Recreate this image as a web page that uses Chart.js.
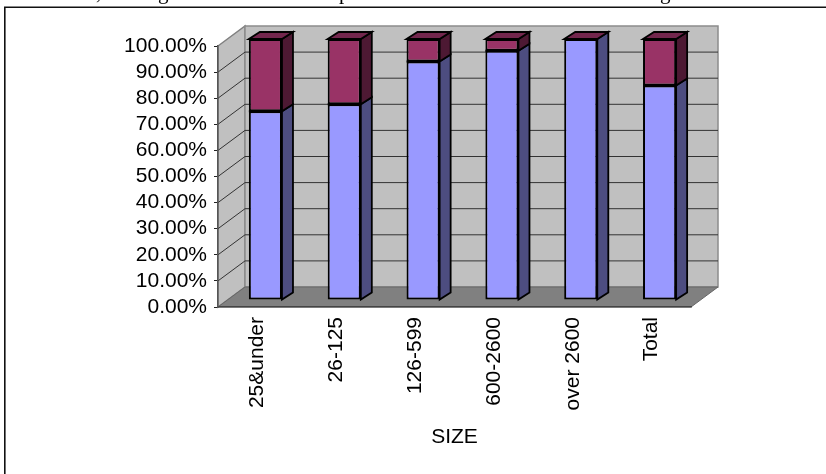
<!DOCTYPE html>
<html>
<head>
<meta charset="utf-8">
<title>SIZE</title>
<script src="https://cdn.jsdelivr.net/npm/chart.js@4"></script>
<style>
  html, body { margin: 0; padding: 0; background: #fff; }
  canvas { display: block; }
</style>
</head>
<body>
<canvas id="grafica" width="826" height="474"></canvas>
<script>
const categories = ['25&under', '26-125', '126-599', '600-2600', 'over 2600', 'Total'];
const lowerValues = [72.3, 75, 91.4, 95.5, 100, 82.2];
const upperValues = [27.7, 25, 8.6, 4.5, 0, 17.8];
const axisTitle = 'SIZE';
// only the descenders of the line above the chart show in the crop
const croppedLine = [',', 'g', 'p', 'g'];
const croppedLineX = [96, 158, 339, 660];

const labelFont = { family: '"Liberation Sans", Arial, sans-serif', size: 21 };
const wallDx = 27;
const wallDy = 20;
const barShiftX = 8;
const barShiftY = 7;
const barDepthX = 11;
const barDepthY = 7;

function poly(ctx, points, fill, stroke, lineWidth) {
  ctx.beginPath();
  points.forEach((p, i) => i ? ctx.lineTo(p[0], p[1]) : ctx.moveTo(p[0], p[1]));
  ctx.closePath();
  if (fill) {
    ctx.fillStyle = fill;
    ctx.fill();
  }
  if (stroke) {
    ctx.strokeStyle = stroke;
    ctx.lineWidth = lineWidth;
    ctx.stroke();
  }
}

const frameAndWalls = {
  id: 'frameAndWalls',
  beforeDraw(chart) {
    const { ctx, chartArea: a, scales } = chart;
    const yScale = scales.y;
    ctx.save();

    // page frame and the cut off text line
    ctx.strokeStyle = '#111';
    ctx.lineWidth = 1.6;
    ctx.beginPath();
    ctx.moveTo(4.8, 474);
    ctx.lineTo(4.8, 7.2);
    ctx.lineTo(826, 7.2);
    ctx.stroke();
    ctx.fillStyle = '#000';
    ctx.font = '21px "Liberation Serif", serif';
    ctx.textBaseline = 'alphabetic';
    croppedLine.forEach((t, i) => ctx.fillText(t, croppedLineX[i], -1));

    // side wall, back wall, floor
    poly(ctx, [[a.left, a.top], [a.left + wallDx, a.top - wallDy], [a.left + wallDx, a.bottom - wallDy], [a.left, a.bottom]], '#c0c0c0', '#808080', 1.5);
    poly(ctx, [[a.left + wallDx, a.top - wallDy], [a.right + wallDx, a.top - wallDy], [a.right + wallDx, a.bottom - wallDy], [a.left + wallDx, a.bottom - wallDy]], '#c0c0c0', '#8c8c8c', 1.5);

    ctx.strokeStyle = '#333';
    ctx.lineWidth = 1;
    yScale.ticks.forEach(t => {
      const py = yScale.getPixelForValue(t.value);
      if (t.value === 0 || t.value === 100) return;
      ctx.beginPath();
      ctx.moveTo(a.left, py);
      ctx.lineTo(a.left + wallDx, py - wallDy);
      ctx.lineTo(a.right + wallDx, py - wallDy);
      ctx.stroke();
    });

    poly(ctx, [[a.left, a.bottom], [a.left + wallDx, a.bottom - wallDy], [a.right + wallDx, a.bottom - wallDy], [a.right, a.bottom]], '#808080', '#666', 1);
    ctx.restore();
  },
  beforeDatasetsDraw(chart) {
    const { ctx } = chart;
    ctx.save();
    ctx.translate(barShiftX, -barShiftY);

    const lower = chart.getDatasetMeta(0).data;
    const upper = chart.getDatasetMeta(1).data;
    lower.forEach((bar, i) => {
      const top = upper[i];
      const right = bar.x + bar.width / 2;
      const left = bar.x - bar.width / 2;
      const face = (yTop, yBottom, fill) => poly(ctx, [
        [right, yTop], [right + barDepthX, yTop - barDepthY],
        [right + barDepthX, yBottom - barDepthY], [right, yBottom]
      ], fill, '#000', 1.8);
      face(bar.y, bar.base, '#4d4d80');
      if (upperValues[i] > 0) face(top.y, top.base, '#4d1933');
      poly(ctx, [
        [left, top.y], [left + barDepthX, top.y - barDepthY],
        [right + barDepthX, top.y - barDepthY], [right, top.y]
      ], '#73264d', '#000', 1.8);
    });
  },
  afterDatasetsDraw(chart) {
    const { ctx } = chart;
    // seam between the two stacked parts
    ctx.strokeStyle = '#000';
    ctx.lineWidth = 2;
    chart.getDatasetMeta(0).data.forEach(bar => {
      ctx.beginPath();
      ctx.moveTo(bar.x - bar.width / 2, bar.y);
      ctx.lineTo(bar.x + bar.width / 2, bar.y);
      ctx.stroke();
    });
    ctx.restore();
  }
};

const barStyle = {
  borderColor: '#000',
  borderSkipped: false,
  borderWidth: 2,
  inflateAmount: 0,
  barPercentage: 0.42,
  categoryPercentage: 1,
  clip: false
};

new Chart(document.getElementById('grafica'), {
  type: 'bar',
  data: {
    labels: categories,
    datasets: [
      { label: 'Series 1', data: lowerValues, backgroundColor: '#9999ff', ...barStyle },
      { label: 'Series 2', data: upperValues, backgroundColor: '#993366', ...barStyle }
    ]
  },
  plugins: [frameAndWalls],
  options: {
    responsive: false,
    animation: false,
    events: [],
    layout: { padding: { left: 0, right: 135, top: 46, bottom: 0 } },
    plugins: {
      legend: { display: false },
      title: { display: false },
      tooltip: { enabled: false }
    },
    scales: {
      x: {
        stacked: true,
        afterFit(scale) { scale.height = 167; },
        grid: { display: false },
        border: { display: true, color: '#444', width: 1.5 },
        ticks: {
          autoSkip: false,
          maxRotation: 90,
          minRotation: 90,
          padding: 2,
          color: '#000',
          font: labelFont
        },
        title: {
          display: true,
          text: axisTitle,
          color: '#000',
          font: labelFont,
          padding: { top: 0, bottom: 24 }
        }
      },
      y: {
        stacked: true,
        min: 0,
        max: 100,
        afterFit(scale) { scale.width = 218; },
        grid: { drawOnChartArea: false, drawTicks: true, tickLength: 4, color: '#222' },
        border: { display: true, color: '#555', width: 1.5 },
        ticks: {
          stepSize: 10,
          autoSkip: false,
          padding: 7,
          color: '#000',
          font: labelFont,
          callback: v => v.toFixed(2) + '%'
        }
      }
    }
  }
});
</script>
</body>
</html>
